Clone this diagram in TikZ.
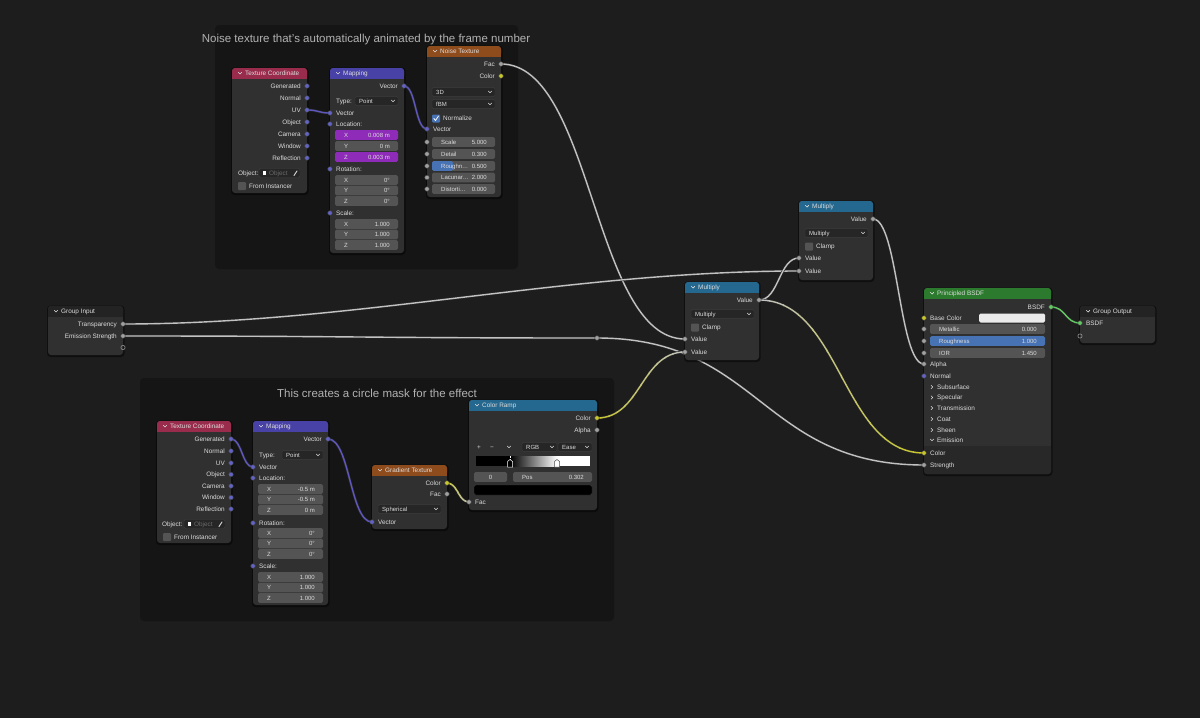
\documentclass[tikz,border=0pt]{standalone}
\usepackage{fontspec}
\setmainfont{Liberation Sans}
\pgfdeclarelayer{bgl}
\pgfdeclarelayer{lnk}
\pgfsetlayers{bgl,lnk,main}
\definecolor{bg}{HTML}{1D1D1D}
\definecolor{framec}{HTML}{151515}
\definecolor{body}{HTML}{303030}
\definecolor{panelc}{HTML}{282828}
\definecolor{hdrInput}{HTML}{992C4C}
\definecolor{hdrVec}{HTML}{4842A6}
\definecolor{hdrTex}{HTML}{8E4C1C}
\definecolor{hdrConv}{HTML}{25688F}
\definecolor{hdrShader}{HTML}{2C7A2E}
\definecolor{hdrGroup}{HTML}{232323}
\definecolor{txt}{HTML}{DCDCDC}
\definecolor{dimtxt}{HTML}{6A6A6A}
\definecolor{sVec}{HTML}{6363C7}
\definecolor{sFloat}{HTML}{A1A1A1}
\definecolor{sCol}{HTML}{C7C729}
\definecolor{sSh}{HTML}{63C763}
\definecolor{fieldc}{HTML}{545454}
\definecolor{menuc}{HTML}{262626}
\definecolor{menuborder}{HTML}{3E3E3E}
\definecolor{animc}{HTML}{8E2BB8}
\definecolor{selc}{HTML}{4772B3}
\definecolor{linkc}{HTML}{C2C2C2}
\definecolor{vlink}{HTML}{5E58BE}
\definecolor{titlec}{HTML}{B2B2B2}
\definecolor{hollowc}{HTML}{8A8A8A}
\tikzset{
  lab/.style={text=txt, font=\fontsize{6.4}{7}\selectfont, inner sep=0pt},
  fldlab/.style={lab, font=\fontsize{6.0}{7}\selectfont},
  dimlab/.style={lab, text=dimtxt},
  ftitle/.style={text=titlec, font=\fontsize{11.5}{13}\selectfont, inner sep=0pt},
  sock/.style={circle, inner sep=0pt, minimum size=4.6pt, draw=black!75, line width=0.4pt},
  hsock/.style={circle, inner sep=0pt, minimum size=4.2pt, draw=hollowc, line width=0.7pt},
  lnkbase/.style={line width=2.6pt, draw=black!85, line cap=round},
  lnkline/.style={line width=1.4pt, line cap=round},
  chev/.style={draw=txt, line width=0.55pt, line cap=round, line join=round},
}
\newcounter{labc}
\newcommand\bxlab[5][lab]{\stepcounter{labc}\edef\labname{lab\arabic{labc}}\node[#1,anchor=#2] (\labname) at ({#3},{#4+2.3}) {#5};}
\newcommand\bxchevd[2]{\draw[chev] ({#1-1.7},{#2-0.9}) -- ({#1},{#2+0.8}) -- ({#1+1.7},{#2-0.9});}
\newcommand\bxchevr[2]{\draw[chev] ({#1-0.9},{#2-1.7}) -- ({#1+0.8},{#2}) -- ({#1-0.9},{#2+1.7});}
\newcommand\bxnode[6]{%
 \fill[black, opacity=0.45, rounded corners=3.5pt] ({#1-1},{#2-0.5}) rectangle ({#3+1.5},{#4+2});
 \fill[body, rounded corners=3pt] ({#1},{#2}) rectangle ({#3},{#4});
 \fill[#5, rounded corners=3pt] ({#1},{#2}) rectangle ({#3},{#2+10.5});
 \fill[#5] ({#1},{#2+5}) rectangle ({#3},{#2+10.5});
 \bxchevd{#1+8}{#2+5.3}
 \bxlab{base west}{#1+13}{#2+5.3}{#6}}
\newcommand\bxout[5]{\node[sock, fill=#4] (#1) at ({#2},{#3}) {}; \bxlab{base east}{#2-6}{#3}{#5}}
\newcommand\bxin[5]{\node[sock, fill=#4] (#1) at ({#2},{#3}) {}; \bxlab{base west}{#2+6}{#3}{#5}}
\newcommand\bxfld[6]{%
 \fill[#4, rounded corners=1.5pt] ({#1},{#3-4.8}) rectangle ({#2},{#3+4.8});
 \bxlab[fldlab]{base west}{#1+9}{#3}{#5}
 \bxlab[fldlab]{base east}{#2-8}{#3}{#6}}
\newcommand\bxfldp[6]{%
 \fill[fieldc, rounded corners=1.5pt] ({#1},{#4-4.8}) rectangle ({#2},{#4+4.8});
 \fill[selc, rounded corners=1.5pt] ({#1},{#4-4.8}) rectangle ({#3},{#4+4.8});
 \bxlab[fldlab]{base west}{#1+9}{#4}{#5}
 \bxlab[fldlab]{base east}{#2-8}{#4}{#6}}
\newcommand\bxdd[4]{%
 \fill[menuc, draw=menuborder, line width=0.4pt, rounded corners=1.5pt] ({#1},{#3-4.6}) rectangle ({#2},{#3+4.6});
 \bxlab[fldlab]{base west}{#1+4}{#3}{#4}
 \bxchevd{#2-5}{#3}}
\newcommand\bxcboff[3]{%
 \fill[fieldc, rounded corners=1pt] ({#1},{#2-4}) rectangle ({#1+8},{#2+4});
 \bxlab{base west}{#1+11}{#2}{#3}}
\newcommand\bxcbon[3]{%
 \fill[selc, rounded corners=1pt] ({#1},{#2-4}) rectangle ({#1+8},{#2+4});
 \draw[white, line width=0.8pt, line cap=round, line join=round] ({#1+1.8},{#2}) -- ({#1+3.5},{#2+2}) -- ({#1+6.5},{#2-2.5});
 \bxlab{base west}{#1+11}{#2}{#3}}
\newcommand\bxobj[4]{%
 \bxlab{base west}{#1}{#4}{Object:}
 \fill[menuc, draw=menuborder, line width=0.4pt, rounded corners=1.5pt] ({#2},{#4-4.5}) rectangle ({#3},{#4+4.5});
 \fill[white] ({#2+3.5},{#4-2}) rectangle ({#2+7},{#4+2});
 \bxlab[dimlab]{base west}{#2+10}{#4}{Object}
 \draw[txt, line width=0.9pt, line cap=round] ({#3-6},{#4+2.5}) -- ({#3-3},{#4-2});}
\newcommand\bxpanel[2]{\bxchevr{932}{#1}\bxlab{base west}{937}{#1}{#2}}
\newcommand\bxlink[4]{%
 \draw[lnkbase] (#1.center) .. controls +(#3,0) and +(-#3,0) .. (#2.center);
 \draw[lnkline, draw=#4] (#1.center) .. controls +(#3,0) and +(-#3,0) .. (#2.center);}
\newcommand\bxglink[7]{%
 \draw[lnkbase] (#1.center) .. controls +(#3,0) and +(-#3,0) .. (#2.center);
 \foreach \k in {0,...,11}{%
  \pgfmathsetmacro\xa{#6+(#7-#6)*\k/12-0.6}%
  \pgfmathsetmacro\xb{#6+(#7-#6)*(\k+1)/12+0.6}%
  \pgfmathtruncatemacro\pc{100-\k*100/11}%
  \begin{scope}
   \clip (\xa,0) rectangle (\xb,718);
   \draw[lnkline, draw=#4!\pc!#5] (#1.center) .. controls +(#3,0) and +(-#3,0) .. (#2.center);
  \end{scope}}}
\begin{document}
\begin{tikzpicture}[x=1pt,y=-1pt]
\useasboundingbox (0,0) rectangle (1200,718);
\begin{pgfonlayer}{bgl}
\fill[bg] (0,0) rectangle (1200,718);
\fill[framec, rounded corners=4pt] (215,25) rectangle (518,269);
\fill[framec, rounded corners=4pt] (140,378) rectangle (614,621);
\end{pgfonlayer}
\node[ftitle] (title1) at (366,40) {Noise texture that's automatically animated by the frame number};
\node[ftitle] (title2) at (377,393) {This creates a circle mask for the effect};

% ---------- top Texture Coordinate
\bxnode{232}{68}{307}{193}{hdrInput}{Texture Coordinate}
\bxout{tc1gen}{307}{86}{sVec}{Generated}
\bxout{tc1nor}{307}{98}{sVec}{Normal}
\bxout{tc1uv}{307}{110}{sVec}{UV}
\bxout{tc1obj}{307}{122}{sVec}{Object}
\bxout{tc1cam}{307}{134}{sVec}{Camera}
\bxout{tc1win}{307}{146}{sVec}{Window}
\bxout{tc1ref}{307}{158}{sVec}{Reflection}
\bxobj{238}{259}{300}{173}
\bxcboff{238}{186}{From Instancer}

% ---------- top Mapping
\bxnode{330}{68}{404}{253}{hdrVec}{Mapping}
\bxout{map1vout}{404}{86}{sVec}{Vector}
\bxlab{base west}{336}{101}{Type:}
\bxdd{355}{398}{101}{Point}
\bxin{map1vin}{330}{113}{sVec}{Vector}
\bxin{map1loc}{330}{124}{sVec}{Location:}
\bxfld{335}{398}{135}{animc}{X}{0.008 m}
\bxfld{335}{398}{146}{fieldc}{Y}{0 m}
\bxfld{335}{398}{157}{animc}{Z}{0.003 m}
\bxin{map1rot}{330}{169}{sVec}{Rotation:}
\bxfld{335}{398}{180}{fieldc}{X}{0°}
\bxfld{335}{398}{190.5}{fieldc}{Y}{0°}
\bxfld{335}{398}{201}{fieldc}{Z}{0°}
\bxin{map1scl}{330}{213}{sVec}{Scale:}
\bxfld{335}{398}{224}{fieldc}{X}{1.000}
\bxfld{335}{398}{234.5}{fieldc}{Y}{1.000}
\bxfld{335}{398}{245}{fieldc}{Z}{1.000}

% ---------- Noise Texture
\bxnode{427}{46}{501}{197}{hdrTex}{Noise Texture}
\bxout{nzfac}{501}{64}{sFloat}{Fac}
\bxout{nzcol}{501}{76}{sCol}{Color}
\bxdd{432}{495}{92}{3D}
\bxdd{432}{495}{104}{fBM}
\bxcbon{432}{118.5}{Normalize}
\bxin{nzvec}{427}{129}{sVec}{Vector}
\node[sock, fill=sFloat] (nzsc) at (427,142) {};
\bxfld{432}{495}{142}{fieldc}{Scale}{5.000}
\node[sock, fill=sFloat] (nzde) at (427,154) {};
\bxfld{432}{495}{154}{fieldc}{Detail}{0.300}
\node[sock, fill=sFloat] (nzro) at (427,166) {};
\bxfldp{432}{495}{453}{166}{Roughn…}{0.500}
\node[sock, fill=sFloat] (nzla) at (427,177.5) {};
\bxfld{432}{495}{177.5}{fieldc}{Lacunar…}{2.000}
\node[sock, fill=sFloat] (nzdi) at (427,189) {};
\bxfld{432}{495}{189}{fieldc}{Distorti…}{0.000}

% ---------- Multiply (upper)
\bxnode{799}{201}{873}{280}{hdrConv}{Multiply}
\bxout{m2out}{873}{219}{sFloat}{Value}
\bxdd{805}{868}{233}{Multiply}
\bxcboff{805}{246.5}{Clamp}
\bxin{m2in1}{799}{258}{sFloat}{Value}
\bxin{m2in2}{799}{271}{sFloat}{Value}

% ---------- Multiply (lower)
\bxnode{685}{282}{759}{360}{hdrConv}{Multiply}
\bxout{m1out}{759}{300}{sFloat}{Value}
\bxdd{691}{754}{314}{Multiply}
\bxcboff{691}{327.5}{Clamp}
\bxin{m1in1}{685}{339}{sFloat}{Value}
\bxin{m1in2}{685}{352}{sFloat}{Value}

% ---------- Group Input
\bxnode{48}{306}{123}{355}{hdrGroup}{Group Input}
\bxout{giT}{123}{324}{sFloat}{Transparency}
\bxout{giE}{123}{336}{sFloat}{Emission Strength}
\node[hsock] (giX) at (123,347.5) {};

% ---------- reroute
\node[sock, fill=sFloat] (rr) at (597,338) {};

% ---------- Principled BSDF
\bxnode{924}{288}{1051}{474}{hdrShader}{Principled BSDF}
\fill[panelc, rounded corners=3pt] (924,446) rectangle (1051,474);
\fill[panelc] (924,446) rectangle (1051,452);
\bxout{pbout}{1051}{307}{sSh}{BSDF}
\bxin{pbbase}{924}{318}{sCol}{Base Color}
\fill[white!92!black, rounded corners=1.5pt] (979,313.5) rectangle (1045,322.5);
\node[sock, fill=sFloat] (pbmet) at (924,329) {};
\bxfld{930}{1045}{329}{fieldc}{Metallic}{0.000}
\node[sock, fill=sFloat] (pbrough) at (924,341) {};
\bxfld{930}{1045}{341}{selc}{Roughness}{1.000}
\node[sock, fill=sFloat] (pbior) at (924,353) {};
\bxfld{930}{1045}{353}{fieldc}{IOR}{1.450}
\bxin{pbalpha}{924}{364}{sFloat}{Alpha}
\bxin{pbnorm}{924}{376}{sVec}{Normal}
\bxpanel{387}{Subsurface}
\bxpanel{397.5}{Specular}
\bxpanel{408}{Transmission}
\bxpanel{419}{Coat}
\bxpanel{430}{Sheen}
\bxchevd{932}{440}
\bxlab{base west}{937}{440}{Emission}
\bxin{pbcolor}{924}{453}{sCol}{Color}
\bxin{pbstr}{924}{465}{sFloat}{Strength}

% ---------- Group Output
\bxnode{1080}{306}{1155}{343}{hdrGroup}{Group Output}
\bxin{goB}{1080}{323}{sSh}{BSDF}
\node[hsock] (goX) at (1080,336) {};

% ---------- bottom Texture Coordinate
\bxnode{157}{421}{231}{543}{hdrInput}{Texture Coordinate}
\bxout{tc2gen}{231}{439}{sVec}{Generated}
\bxout{tc2nor}{231}{451}{sVec}{Normal}
\bxout{tc2uv}{231}{463}{sVec}{UV}
\bxout{tc2obj}{231}{474.5}{sVec}{Object}
\bxout{tc2cam}{231}{486}{sVec}{Camera}
\bxout{tc2win}{231}{497.5}{sVec}{Window}
\bxout{tc2ref}{231}{509}{sVec}{Reflection}
\bxobj{162}{184}{225}{524}
\bxcboff{163}{537}{From Instancer}

% ---------- bottom Mapping
\bxnode{253}{421}{328}{605}{hdrVec}{Mapping}
\bxout{map2vout}{328}{439}{sVec}{Vector}
\bxlab{base west}{259}{455}{Type:}
\bxdd{282}{323}{455}{Point}
\bxin{map2vin}{253}{467}{sVec}{Vector}
\bxin{map2loc}{253}{478}{sVec}{Location:}
\bxfld{258}{323}{489}{fieldc}{X}{-0.5 m}
\bxfld{258}{323}{499.5}{fieldc}{Y}{-0.5 m}
\bxfld{258}{323}{510}{fieldc}{Z}{0 m}
\bxin{map2rot}{253}{523}{sVec}{Rotation:}
\bxfld{258}{323}{533}{fieldc}{X}{0°}
\bxfld{258}{323}{543.5}{fieldc}{Y}{0°}
\bxfld{258}{323}{554}{fieldc}{Z}{0°}
\bxin{map2scl}{253}{566}{sVec}{Scale:}
\bxfld{258}{323}{577}{fieldc}{X}{1.000}
\bxfld{258}{323}{587.5}{fieldc}{Y}{1.000}
\bxfld{258}{323}{598}{fieldc}{Z}{1.000}

% ---------- Gradient Texture
\bxnode{372}{465}{447}{529}{hdrTex}{Gradient Texture}
\bxout{grcol}{447}{483}{sCol}{Color}
\bxout{grfac}{447}{494}{sFloat}{Fac}
\bxdd{378}{441}{509}{Spherical}
\bxin{grvec}{372}{522}{sVec}{Vector}

% ---------- Color Ramp
\bxnode{469}{400}{597}{510}{hdrConv}{Color Ramp}
\bxout{crcol}{597}{418}{sCol}{Color}
\bxout{cralpha}{597}{430}{sFloat}{Alpha}
\bxlab{base}{479}{447}{+}
\bxlab{base}{492}{447}{−}
\bxchevd{509}{447}
\bxdd{522}{557}{447}{RGB}
\bxdd{558}{592}{447}{Ease}
\fill[black] (476,456) rectangle (511,466);
\shade[left color=black, right color=white] (510,456) rectangle (557,466);
\fill[white] (556.5,456) rectangle (590,466);
\draw[white, line width=0.4pt, densely dotted] (510,456) -- (510,460);
\filldraw[fill=black, draw=white, line width=0.5pt] (507.5,461.5) -- (510,459.5) -- (512.5,461.5) -- (512.5,467) -- (507.5,467) -- cycle;
\filldraw[fill=white, draw=black!70, line width=0.5pt] (554.5,461.5) -- (557,459.5) -- (559.5,461.5) -- (559.5,467) -- (554.5,467) -- cycle;
\fill[fieldc, rounded corners=1.5pt] (474,472.2) rectangle (507,481.8);
\bxlab[fldlab]{base}{490.5}{477}{0}
\bxfld{513}{592}{477}{fieldc}{Pos}{0.302}
\filldraw[fill=black, draw=menuborder, line width=0.4pt, rounded corners=1.5pt] (474,485) rectangle (592,495);
\bxin{crfac}{469}{502}{sFloat}{Fac}

% ---------- links
\begin{pgfonlayer}{lnk}
\bxlink{tc1uv}{map1vin}{12}{vlink}
\bxlink{map1vout}{nzvec}{12}{vlink}
\bxlink{nzfac}{m1in1}{92}{linkc}
\bxlink{giT}{m2in2}{230}{linkc}
\bxlink{giE}{rr}{237}{linkc}
\bxlink{rr}{pbstr}{163}{linkc}
\bxglink{crcol}{m1in2}{44}{sCol}{linkc}{593}{689}
\bxlink{m1out}{m2in1}{20}{linkc}
\bxglink{m1out}{pbcolor}{82}{linkc}{sCol}{755}{928}
\bxlink{m2out}{pbalpha}{25}{linkc}
\bxlink{pbout}{goB}{15}{sSh}
\bxlink{tc2gen}{map2vin}{11}{vlink}
\bxlink{map2vout}{grvec}{22}{vlink}
\bxglink{grcol}{crfac}{11}{sCol}{linkc}{443}{473}
\end{pgfonlayer}
\end{tikzpicture}
\end{document}
